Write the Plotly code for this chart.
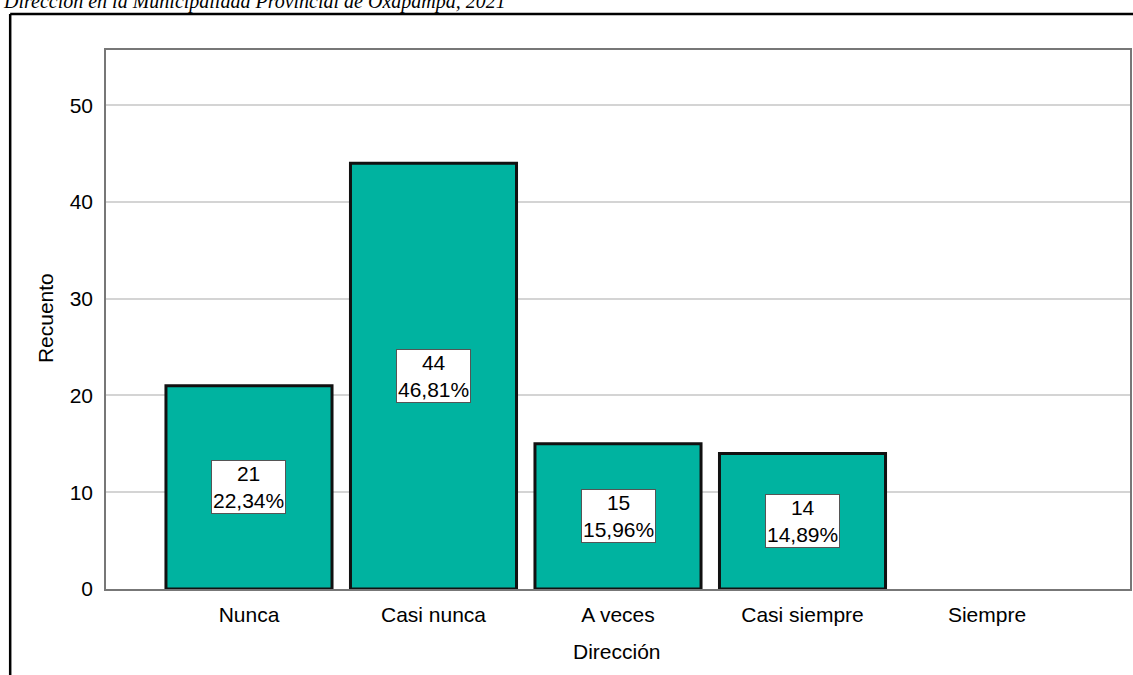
import plotly.graph_objects as go

categories = ["Nunca", "Casi nunca", "A veces", "Casi siempre", "Siempre"]
counts = [21, 44, 15, 14, 0]
percents = ["22,34%", "46,81%", "15,96%", "14,89%", ""]
y_ticks = [0, 10, 20, 30, 40, 50]
title_text = "Dirección en la Municipalidad Provincial de Oxapampa, 2021"
x_title = "Dirección"
y_title = "Recuento"

W, H = 1133, 675
L, R, T, B = 106, 1, 50, 86
PW, PH = W - L - R, H - T - B

def px(x):
    return (x - L) / PW

def py(y):
    return (H - B - y) / PH

FONT = "Liberation Sans, Arial, sans-serif"
TEAL = "#00b3a0"

fig = go.Figure()
fig.add_trace(go.Bar(
    x=list(range(len(categories))),
    y=counts,
    width=0.9,
    marker=dict(color=TEAL, line=dict(color="#111111", width=[3 if c > 0 else 0 for c in counts])),
    hoverinfo="skip",
))

annotations = []
for i, (c, p) in enumerate(zip(counts, percents)):
    if c > 0:
        annotations.append(dict(
            x=i, y=c / 2, xref="x", yref="y",
            text=f"{c}<br>{p}", showarrow=False,
            font=dict(family=FONT, size=21, color="black"),
            bgcolor="white", bordercolor="#555555", borderwidth=1, borderpad=1,
            align="center",
        ))

annotations.append(dict(
    x=px(618), y=py(651), xref="paper", yref="paper",
    text=x_title, showarrow=False, xanchor="center", yanchor="middle",
    font=dict(family=FONT, size=21, color="black"),
))
annotations.append(dict(
    x=px(45), y=py(318), xref="paper", yref="paper",
    text=y_title, showarrow=False, xanchor="center", yanchor="middle", textangle=-90,
    font=dict(family=FONT, size=21, color="black"),
))
annotations.append(dict(
    x=px(2), y=py(14), xref="paper", yref="paper",
    text=f"<i>{title_text}</i>", showarrow=False, xanchor="left", yanchor="bottom",
    borderpad=0,
    font=dict(family="Liberation Serif, Times New Roman, serif", size=20, color="black"),
))

shapes = [
    dict(type="line", xref="paper", yref="paper", x0=px(10), x1=px(1140), y0=py(14), y1=py(14),
         line=dict(color="black", width=2.5)),
    dict(type="line", xref="paper", yref="paper", x0=px(10), x1=px(10), y0=py(14), y1=py(690),
         line=dict(color="black", width=2.5)),
]

fig.update_layout(
    width=W, height=H,
    margin=dict(l=L, r=R, t=T, b=B, pad=0),
    paper_bgcolor="white", plot_bgcolor="white",
    showlegend=False,
    annotations=annotations,
    shapes=shapes,
    font=dict(family=FONT, size=20, color="black"),
    xaxis=dict(
        range=[-0.775, 4.775],
        tickmode="array", tickvals=list(range(len(categories))), ticktext=categories,
        showgrid=False, zeroline=False,
        showline=True, linecolor="#777777", linewidth=1.5, mirror=True,
        ticks="", tickfont=dict(family=FONT, size=21, color="black"),
        ticklabelstandoff=6,
    ),
    yaxis=dict(
        range=[0, 55.7],
        tickmode="array", tickvals=y_ticks, ticktext=[str(v) for v in y_ticks],
        showgrid=True, gridcolor="#d4d4d4", gridwidth=1.5, zeroline=False,
        showline=True, linecolor="#777777", linewidth=1.5, mirror=True,
        ticks="", tickfont=dict(family=FONT, size=21, color="black"),
        ticklabelstandoff=7,
    ),
)

fig.write_html(
    "out.html",
    config={"displayModeBar": False},
    post_script="document.body.style.margin='0';document.body.style.overflow='hidden';",
)
